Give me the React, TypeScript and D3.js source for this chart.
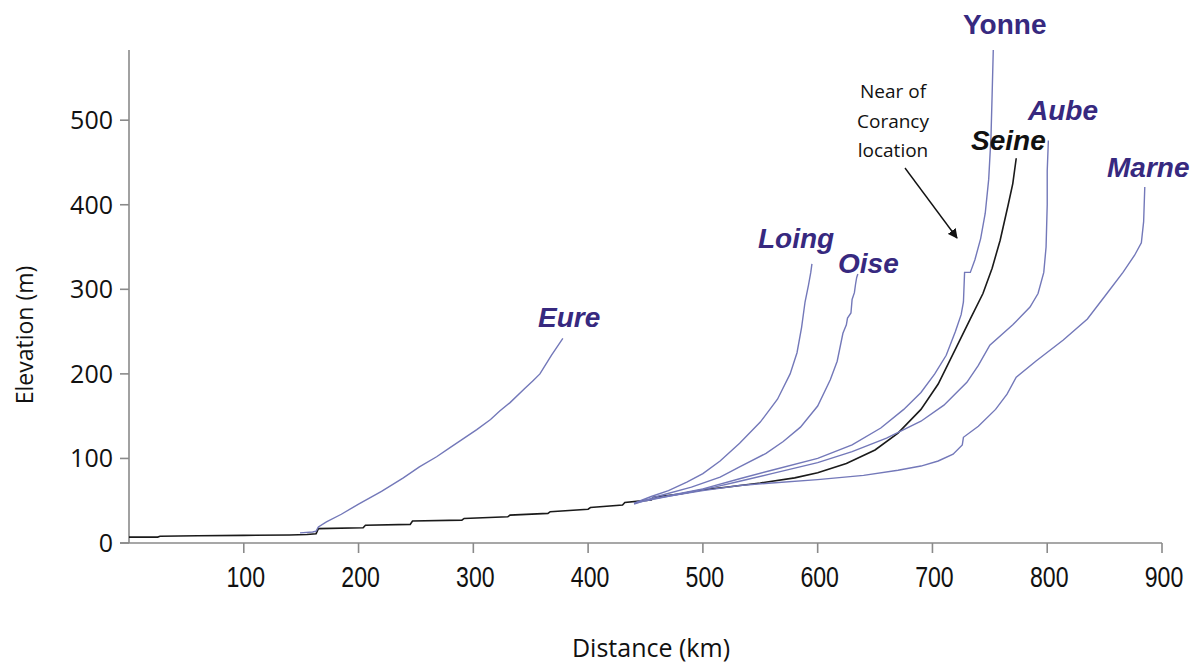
import React from 'react';
import * as d3 from 'd3';

type Pt = [number, number]; // [distance km, elevation m]

// longitudinal profiles
const seine: Pt[] = [
  [0, 7], [25, 7], [27, 8], [60, 8.5], [100, 9], [140, 9.5], [155, 10], [163, 11], [165, 17],
  [204, 18], [206, 21], [245, 22], [247, 26], [290, 27], [292, 29], [330, 31], [332, 33],
  [365, 35], [367, 37], [400, 40], [402, 42], [430, 45], [432, 48], [455, 51], [457, 54],
  [480, 58], [500, 63], [520, 66], [550, 71], [580, 77], [600, 83], [625, 94], [650, 110],
  [670, 130], [690, 158], [705, 188], [721, 232], [733, 265], [744, 295], [752, 325],
  [759, 358], [766, 400], [770, 425], [773, 455],
];
const eure: Pt[] = [
  [149, 12], [160, 13], [163, 14], [165, 19], [172, 25], [185, 34], [200, 46], [220, 61],
  [239, 77], [253, 90], [268, 102], [280, 113], [292, 124], [303, 134], [315, 146],
  [323, 156], [332, 166], [345, 183], [352, 192], [358, 200], [363, 211], [368, 222],
  [373, 232], [378, 242],
];
const loing: Pt[] = [
  [440, 47], [455, 55], [470, 62], [486, 72], [500, 82], [515, 97], [532, 118], [550, 143],
  [565, 170], [576, 200], [582, 225], [586, 255], [589, 285], [592, 305], [594, 320], [595, 330],
];
const oise: Pt[] = [
  [440, 46], [460, 55], [490, 66], [515, 78], [532, 90], [555, 106], [570, 120], [585, 137],
  [600, 162], [611, 193], [617, 215], [622, 248], [625, 258], [626, 266], [629, 272],
  [630, 288], [632, 296], [633, 306], [634, 314], [635, 318],
];
const yonne: Pt[] = [
  [440, 47], [470, 56], [500, 64], [532, 76], [560, 86], [600, 100], [630, 116], [655, 136],
  [675, 158], [690, 178], [702, 200], [712, 222], [720, 250], [725, 270], [727, 285],
  [728, 320], [733, 320], [737, 335], [742, 360], [746, 390], [749, 430], [751, 480],
  [752, 530], [753, 583],
];
const aube: Pt[] = [
  [450, 50], [480, 58], [510, 66], [532, 73], [560, 82], [600, 95], [630, 108], [660, 124],
  [690, 144], [710, 163], [730, 190], [740, 210], [750, 234], [770, 258], [785, 279],
  [792, 295], [797, 320], [799, 350], [800, 400], [800, 440], [801, 476],
];
const marne: Pt[] = [
  [460, 53], [500, 62], [532, 68], [560, 71], [600, 75], [640, 80], [670, 86], [690, 91],
  [705, 97], [718, 105], [726, 116], [727, 125], [740, 138], [755, 158], [765, 176],
  [773, 196], [790, 215], [814, 240], [835, 265], [852, 295], [866, 320], [876, 340],
  [882, 355], [884, 380], [885, 421],
];

const xTicks = [100, 200, 300, 400, 500, 600, 700, 800, 900];
const yTicks = [0, 100, 200, 300, 400, 500];

const riverLabels = [
  { name: 'Yonne', x: 963, y: 34, italic: false, color: '#37297f' },
  { name: 'Aube', x: 1028, y: 120, italic: true, color: '#37297f' },
  { name: 'Seine', x: 971, y: 150, italic: true, color: '#111111' },
  { name: 'Marne', x: 1107, y: 177, italic: true, color: '#37297f' },
  { name: 'Loing', x: 758, y: 248, italic: true, color: '#37297f' },
  { name: 'Oise', x: 838, y: 273, italic: true, color: '#37297f' },
  { name: 'Eure', x: 538, y: 327, italic: true, color: '#37297f' },
];

export default function App() {
  const W = 1197, H = 664;
  const x = d3.scaleLinear().domain([0, 900]).range([129, 1162]);
  const y = d3.scaleLinear().domain([0, 583]).range([543, 50]);

  const line = d3.line<Pt>().x(d => x(d[0])).y(d => y(d[1]));

  const axisColor = '#8a8a8a';
  const blue = '#7378b9';
  const calibri = '"Open Sans", "Noto Sans", sans-serif';

  const tribs = [eure, loing, oise, yonne, aube, marne];

  return (
    <svg width={W} height={H} style={{ position: 'absolute', left: 0, top: 0, background: '#fff' }}>
      {/* axes */}
      <line x1={x(0)} x2={x(0)} y1={y(0)} y2={y.range()[1]} stroke={axisColor} strokeWidth={1.6} />
      <line x1={x(0) - 9} x2={x(900)} y1={y(0)} y2={y(0)} stroke={axisColor} strokeWidth={1.6} />
      {yTicks.map(t => (
        <g key={'y' + t}>
          <line x1={x(0) - 9} x2={x(0)} y1={y(t)} y2={y(t)} stroke={axisColor} strokeWidth={1.6} />
          <text x={113} y={y(t)} dy="0.36em" textAnchor="end" fontFamily={calibri} fontSize={25} fill="#111">
            {t}
          </text>
        </g>
      ))}
      {xTicks.map(t => (
        <g key={'x' + t}>
          <line x1={x(t)} x2={x(t)} y1={y(0)} y2={y(0) + 10} stroke={axisColor} strokeWidth={1.6} />
          <text transform={`translate(${x(t) + 2},587) scale(0.77,1)`} textAnchor="middle"
            fontFamily='"Liberation Sans", Arial, sans-serif' fontSize={30} fill="#111">
            {t}
          </text>
        </g>
      ))}
      <text x={651} y={657} textAnchor="middle" fontFamily={calibri} fontSize={25} fill="#111">Distance (km)</text>
      <text transform="translate(33,335) rotate(-90)" textAnchor="middle" fontFamily={calibri} fontSize={23} fill="#111">
        Elevation (m)
      </text>

      {/* profiles */}
      <path d={line(seine) || ''} fill="none" stroke="#1a1a1a" strokeWidth={1.6} />
      {tribs.map((r, i) => (
        <path key={i} d={line(r) || ''} fill="none" stroke={blue} strokeWidth={1.4} />
      ))}

      {/* river names */}
      {riverLabels.map(l => (
        <text key={l.name} x={l.x} y={l.y} fontFamily='"Liberation Sans", Arial, sans-serif' fontWeight="bold"
          fontStyle={l.italic ? 'italic' : 'normal'} fontSize={28} fill={l.color}>
          {l.name}
        </text>
      ))}

      {/* annotation */}
      <defs>
        <marker id="arr" viewBox="0 0 10 10" refX={9} refY={5} markerWidth={7} markerHeight={7} orient="auto">
          <path d="M0,0 L10,5 L0,10 z" fill="#111" />
        </marker>
      </defs>
      <g fontFamily={calibri} fontSize={19} fill="#111" textAnchor="middle">
        <text x={893} y={98}>Near of</text>
        <text x={893} y={128}>Corancy</text>
        <text x={893} y={157}>location</text>
      </g>
      <line x1={905} y1={168} x2={957} y2={238} stroke="#111" strokeWidth={1.4} markerEnd="url(#arr)" />
    </svg>
  );
}
